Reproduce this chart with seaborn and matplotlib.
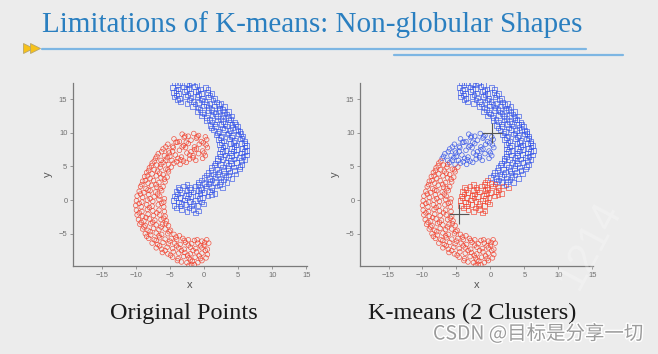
import numpy as np
import pandas as pd
import matplotlib
matplotlib.use("Agg")
import matplotlib.pyplot as plt
from matplotlib.lines import Line2D
import matplotlib.patheffects as pe
import seaborn as sns

# points (original classes)
red_points = [
    (-3.2, 9.8), (-2.3, 9.5), (-1.5, 9.9), (-0.8, 9.6), (0.2, 9.4),
    (-4.4, 9.1), (-3.6, 8.7), (-2.9, 9.3), (-1.9, 8.9), (-1.1, 9.2), (-0.4, 8.7), (0.4, 9.0),
    (-5.3, 8.3), (-4.6, 8.0), (-3.9, 8.6), (-3.0, 8.1), (-2.3, 8.4), (-1.4, 7.9), (-0.7, 8.3), (0.3, 8.2),
    (-6.0, 7.6), (-5.2, 7.3), (-4.5, 7.8), (-3.6, 7.4), (-2.7, 7.8), (-1.9, 7.2), (-1.1, 7.6), (-0.2, 7.3), (0.5, 7.8),
    (-6.7, 6.9), (-5.8, 6.6), (-5.1, 7.0), (-4.2, 6.7), (-3.3, 6.4), (-2.5, 7.0), (-1.6, 6.6), (-0.8, 6.9), (0.2, 6.6),
    (-7.1, 6.2), (-6.3, 5.9), (-5.4, 6.3), (-4.7, 5.9), (-3.8, 6.2), (-3.0, 5.8), (-2.1, 6.1), (-1.2, 5.9), (-0.2, 6.2),
    (-7.6, 5.5), (-6.9, 5.2), (-6.0, 5.6), (-5.2, 5.3), (-4.4, 5.5), (-3.5, 5.3), (-2.6, 5.6),
    (-8.0, 4.8), (-7.3, 4.5), (-6.4, 4.9), (-5.6, 4.6), (-4.8, 4.9),
    (-8.4, 4.1), (-7.6, 3.9), (-6.8, 4.3), (-6.0, 3.8), (-5.2, 4.2),
    (-8.7, 3.5), (-7.9, 3.2), (-7.0, 3.6), (-6.3, 3.3), (-5.4, 3.4),
    (-9.0, 2.8), (-8.2, 2.5), (-7.4, 2.9), (-6.6, 2.6), (-5.7, 2.7),
    (-9.3, 2.0), (-8.5, 1.7), (-7.7, 2.2), (-6.9, 1.9), (-6.0, 2.0),
    (-9.5, 1.3), (-8.8, 1.1), (-7.9, 1.4), (-7.1, 1.2), (-6.2, 1.4),
    (-9.8, 0.6), (-9.0, 0.4), (-8.1, 0.8), (-7.3, 0.5), (-6.5, 0.6), (-5.8, 0.2),
    (-9.9, -0.1), (-9.1, -0.3), (-8.3, 0.0), (-7.5, -0.2), (-6.6, 0.1), (-5.9, -0.3),
    (-10.0, -0.8), (-9.2, -1.0), (-8.4, -0.7), (-7.6, -0.9), (-6.7, -0.7), (-5.9, -1.0),
    (-9.9, -1.5), (-9.1, -1.7), (-8.3, -1.4), (-7.5, -1.6), (-6.6, -1.5), (-5.8, -1.7),
    (-9.8, -2.2), (-9.0, -2.4), (-8.2, -2.1), (-7.4, -2.3), (-6.5, -2.2), (-5.7, -2.4),
    (-9.6, -2.9), (-8.8, -3.1), (-8.0, -2.8), (-7.2, -3.0), (-6.3, -2.9), (-5.5, -3.1),
    (-9.4, -3.6), (-8.6, -3.8), (-7.8, -3.5), (-7.0, -3.7), (-6.1, -3.6), (-5.2, -3.8),
    (-9.0, -4.3), (-8.2, -4.5), (-7.4, -4.2), (-6.6, -4.4), (-5.7, -4.3), (-4.9, -4.5),
    (-8.6, -5.0), (-7.8, -5.2), (-7.0, -4.9), (-6.2, -5.1), (-5.3, -5.0), (-4.4, -5.1), (-3.6, -5.3),
    (-8.1, -5.7), (-7.3, -5.9), (-6.5, -5.6), (-5.7, -5.8), (-4.8, -5.7), (-4.0, -5.9), (-3.1, -5.7),
    (-2.3, -5.9), (-1.4, -6.0), (-0.3, -6.1), (0.4, -5.9),
    (-7.6, -6.4), (-6.8, -6.6), (-6.0, -6.3), (-5.2, -6.5), (-4.3, -6.4), (-3.5, -6.6), (-2.7, -6.3),
    (-1.8, -6.5), (-0.9, -6.4), (0.0, -6.7), (0.7, -6.4),
    (-7.0, -7.1), (-6.2, -7.3), (-5.4, -7.0), (-4.6, -7.2), (-3.7, -7.1), (-2.9, -7.3), (-2.0, -7.0),
    (-1.2, -7.2), (-0.3, -7.1), (0.5, -7.3),
    (-6.1, -7.8), (-5.3, -8.0), (-4.5, -7.7), (-3.7, -7.9), (-2.8, -7.8), (-2.0, -8.0), (-1.1, -7.7),
    (-0.3, -7.9), (0.5, -8.1),
    (-4.6, -8.5), (-3.8, -8.7), (-3.0, -8.4), (-2.2, -8.6), (-1.3, -8.5), (-0.5, -8.7), (0.3, -8.6),
    (-3.3, -9.2), (-2.5, -9.3), (-1.7, -9.1), (-0.9, -9.3),
    (-2.2, -9.7), (-1.4, -9.6),
    # in-between points
    (-2.8, 9.5), (-1.0, 9.4), (-4.1, 8.6), (-2.6, 8.6), (-0.1, 8.5), (-5.6, 7.9), (-3.2, 7.9),
    (-1.4, 7.5), (-6.2, 7.2), (-4.6, 7.2), (-2.1, 6.7), (0.0, 7.0), (-6.9, 6.5), (-5.0, 6.5),
    (-3.4, 6.0), (-1.6, 6.3), (-7.3, 5.8), (-5.6, 5.9), (-4.0, 5.7), (-7.7, 5.1), (-6.3, 5.3),
    (-5.3, 4.5), (-8.1, 4.4), (-6.5, 4.0), (-8.3, 3.6), (-5.8, 3.1), (-8.6, 2.9), (-7.0, 2.3),
    (-9.1, 2.3), (-6.4, 1.7), (-8.2, 1.5), (-9.3, 0.9), (-6.8, 0.9), (-7.9, 0.2), (-9.5, -0.5),
    (-6.2, -0.5), (-8.0, -1.1), (-9.5, -1.9), (-6.9, -1.9), (-8.5, -2.6), (-5.9, -2.7), (-9.2, -3.3),
    (-7.5, -3.3), (-5.6, -3.5), (-8.8, -4.0), (-6.3, -4.0), (-7.9, -4.7), (-5.1, -4.7), (-8.4, -5.4),
    (-6.6, -5.3), (-4.1, -5.5), (-7.0, -6.0), (-5.0, -6.1), (-2.9, -6.0), (-1.0, -5.9), (0.1, -6.3),
    (-6.5, -6.8), (-4.0, -6.8), (-2.3, -6.7), (-0.5, -6.8), (-5.7, -7.5), (-3.3, -7.5), (-1.6, -7.5),
    (0.2, -7.5), (-4.9, -8.2), (-2.4, -8.2), (-0.7, -8.3), (-3.9, -9.0), (-2.0, -8.9), (-0.3, -9.0),
    (-1.8, -9.6),
]

blue_points = [
    (-4.3, 17.4), (-3.5, 17.5), (-2.6, 17.3), (-1.8, 17.5), (-1.0, 17.2),
    (-4.6, 16.7), (-3.8, 16.5), (-3.0, 16.8), (-2.2, 16.6), (-1.4, 16.9), (-0.5, 16.5), (0.2, 16.7),
    (-4.5, 16.0), (-3.7, 15.8), (-2.9, 16.1), (-2.0, 15.9), (-1.2, 16.1), (-0.4, 15.8), (0.5, 16.0), (1.2, 15.8),
    (-4.4, 15.3), (-3.6, 15.1), (-2.7, 15.4), (-1.9, 15.2), (-1.0, 15.4), (-0.2, 15.1), (0.7, 15.3), (1.6, 15.1),
    (-3.4, 14.6), (-2.5, 14.4), (-1.6, 14.7), (-0.8, 14.5), (0.1, 14.7), (0.9, 14.4), (1.8, 14.6), (2.5, 14.4),
    (-1.7, 13.9), (-0.9, 13.7), (-0.1, 14.0), (0.7, 13.8), (1.5, 14.0), (2.3, 13.7), (3.0, 13.9),
    (-1.0, 13.2), (-0.2, 13.0), (0.6, 13.3), (1.4, 13.1), (2.2, 13.3), (3.0, 13.0), (3.6, 13.2),
    (-0.4, 12.5), (0.4, 12.3), (1.2, 12.6), (2.0, 12.4), (2.8, 12.6), (3.6, 12.3), (4.1, 12.5),
    (0.4, 11.8), (1.2, 11.6), (2.0, 11.9), (2.8, 11.7), (3.6, 11.9), (4.5, 11.6),
    (0.9, 11.1), (1.7, 10.9), (2.5, 11.2), (3.3, 11.0), (4.1, 11.2), (4.9, 10.9),
    (1.4, 10.4), (2.2, 10.2), (3.0, 10.5), (3.8, 10.3), (4.6, 10.5), (5.3, 10.2),
    (1.8, 9.7), (2.6, 9.5), (3.4, 9.8), (4.2, 9.6), (5.0, 9.8), (5.7, 9.5),
    (2.1, 9.0), (2.9, 8.8), (3.7, 9.1), (4.5, 8.9), (5.3, 9.1), (6.0, 8.8),
    (2.3, 8.3), (3.1, 8.1), (3.9, 8.4), (4.7, 8.2), (5.5, 8.4), (6.2, 8.1),
    (2.4, 7.6), (3.2, 7.4), (4.0, 7.7), (4.8, 7.5), (5.6, 7.7), (6.3, 7.4),
    (2.3, 6.9), (3.1, 6.7), (3.9, 7.0), (4.7, 6.8), (5.5, 7.0), (6.2, 6.7),
    (2.0, 6.2), (2.8, 6.0), (3.6, 6.3), (4.4, 6.1), (5.2, 6.3), (6.0, 6.0),
    (1.6, 5.5), (2.4, 5.3), (3.2, 5.6), (4.0, 5.4), (4.8, 5.6), (5.6, 5.3),
    (1.1, 4.8), (1.9, 4.6), (2.7, 4.9), (3.5, 4.7), (4.3, 4.9), (5.2, 4.6),
    (0.6, 4.1), (1.4, 3.9), (2.2, 4.2), (3.0, 4.0), (3.8, 4.2), (4.7, 3.9),
    (0.0, 3.4), (0.8, 3.2), (1.6, 3.5), (2.4, 3.3), (3.2, 3.5), (4.1, 3.2),
    (-0.8, 2.7), (0.1, 2.5), (0.9, 2.8), (1.7, 2.6), (2.5, 2.8), (3.4, 2.6),
    (-3.8, 1.9), (-3.0, 2.1), (-2.1, 1.9), (-1.3, 2.1), (-0.5, 1.9), (0.3, 2.1), (1.1, 1.9), (1.9, 2.1), (2.7, 1.8),
    (-4.1, 1.3), (-3.3, 1.1), (-2.5, 1.4), (-1.6, 1.2), (-0.8, 1.4), (0.0, 1.1), (0.8, 1.3), (1.6, 1.0),
    (-4.3, 0.6), (-3.5, 0.4), (-2.7, 0.7), (-1.9, 0.5), (-1.0, 0.7), (-0.2, 0.4), (0.6, 0.6),
    (-4.5, -0.1), (-3.7, -0.3), (-2.9, 0.0), (-2.1, -0.2), (-1.2, -0.1), (-0.4, -0.3),
    (-4.4, -0.8), (-3.5, -0.9), (-2.7, -0.7), (-1.8, -0.9), (-0.9, -0.8),
    (-3.3, -1.5), (-2.5, -1.7), (-1.6, -1.4), (-0.8, -1.6),
    # in-between points
    (-3.9, 17.2), (-2.2, 17.1), (-4.1, 16.3), (-2.6, 16.4), (-0.9, 16.3), (0.6, 16.4), (-4.0, 15.6),
    (-2.4, 15.6), (-0.8, 15.7), (0.9, 15.6), (-3.9, 14.9), (-2.1, 14.9), (-0.4, 14.9), (1.3, 14.9),
    (2.1, 14.2), (-1.3, 14.3), (0.4, 14.2), (2.7, 13.5), (-0.6, 13.5), (1.1, 13.5), (1.7, 12.9),
    (3.3, 12.8), (0.0, 12.8), (0.8, 12.0), (2.4, 12.1), (3.9, 12.0), (1.6, 11.3), (3.1, 11.4),
    (4.6, 11.3), (1.1, 10.7), (2.7, 10.7), (4.2, 10.8), (5.0, 10.3), (2.0, 10.0), (3.6, 10.0),
    (5.4, 9.9), (2.4, 9.3), (4.0, 9.4), (5.6, 9.2), (2.6, 8.6), (4.3, 8.6), (5.9, 8.5), (2.8, 7.9),
    (4.4, 8.0), (6.0, 7.9), (2.7, 7.2), (4.3, 7.3), (5.9, 7.2), (2.4, 6.5), (4.0, 6.6), (5.7, 6.5),
    (2.0, 5.9), (3.9, 5.9), (5.5, 5.9), (1.5, 5.2), (3.6, 5.1), (5.3, 5.0), (1.0, 4.4), (2.9, 4.4),
    (4.5, 4.4), (0.4, 3.7), (2.0, 3.8), (3.6, 3.7), (-0.4, 3.0), (1.2, 3.0), (2.9, 3.1), (-2.5, 2.3),
    (-0.9, 2.3), (0.7, 2.4), (2.3, 2.3), (-3.6, 1.6), (-2.0, 1.6), (-0.4, 1.6), (1.2, 1.5), (-3.9, 0.9),
    (-2.3, 0.9), (-0.6, 1.0), (1.1, 0.8), (-4.1, 0.3), (-2.4, 0.3), (-0.7, 0.2), (-3.3, -0.5),
    (-1.6, -0.5), (-0.1, -0.6), (-4.0, -1.2), (-2.2, -1.2), (-1.2, -1.9),
]

# k-means centroids (the two crosses)
centroid_x = [0.2, -4.6]
centroid_y = [9.9, -2.0]

x_ticks = [-15, -10, -5, 0, 5, 10, 15]
y_ticks = [-5, 0, 5, 10, 15]

title = "Limitations of K-means: Non-globular Shapes"
captions = ["Original Points", "K-means (2 Clusters)"]
watermark = "CSDN @目标是分享一切"

bg = "#ececec"
red = "#f23c28"
blue = "#3050e8"

red_df = pd.DataFrame(red_points, columns=["x", "y"])
red_df["shape"] = "circle"
red_df["orig"] = "red"
blue_df = pd.DataFrame(blue_points, columns=["x", "y"])
blue_df["shape"] = "square"
blue_df["orig"] = "blue"
df = pd.concat([red_df, blue_df], ignore_index=True)

# assign each point to the nearest centroid
d0 = (df["x"] - centroid_x[0]) ** 2 + (df["y"] - centroid_y[0]) ** 2
d1 = (df["x"] - centroid_x[1]) ** 2 + (df["y"] - centroid_y[1]) ** 2
df["cluster"] = np.where(d0 < d1, "blue", "red")

sns.set_theme(style="white")
plt.rcParams["font.family"] = ["Liberation Sans", "DejaVu Sans"]

fig = plt.figure(figsize=(6.58, 3.54), dpi=100)
fig.patch.set_facecolor(bg)

W, H = 658, 354
ax_left = fig.add_axes([73 / W, 1 - 266 / H, 234 / W, 183.3 / H])
ax_right = fig.add_axes([360 / W, 1 - 266 / H, 233 / W, 183.3 / H])


def draw(ax, hue_col):
    sns.scatterplot(data=df, x="x", y="y", hue=hue_col, style="shape",
                    markers={"circle": "o", "square": "s"},
                    palette={"red": red, "blue": blue},
                    s=11, linewidth=0.5, legend=False, ax=ax)
    pts = ax.collections[0]
    fc = pts.get_facecolors().copy()
    fc[:, 3] = 0.85
    pts.set_edgecolors(fc)
    pts.set_facecolors("none")

    ax.set_facecolor(bg)
    ax.set_xlim(-19.2, 15.1)
    ax.set_ylim(-9.8, 17.45)
    ax.set_xticks(x_ticks)
    ax.set_yticks(y_ticks)
    for side in ["top", "right"]:
        ax.spines[side].set_visible(False)
    for side in ["left", "bottom"]:
        ax.spines[side].set_color("#7a7a7a")
        ax.spines[side].set_linewidth(0.9)
    ax.tick_params(direction="out", length=2, width=0.6, color="#888888",
                   labelsize=5.5, labelcolor="#707070", pad=2,
                   bottom=True, left=True)
    ax.set_xlabel("x", fontsize=8, color="#555555", labelpad=1)
    ax.set_ylabel("y", fontsize=8, color="#555555", labelpad=4)


draw(ax_left, "orig")
draw(ax_right, "cluster")
ax_right.scatter(centroid_x, centroid_y, marker="+", s=220, color="#555555",
                 linewidths=0.8, zorder=5)

# slide title and decoration
fig.text(42 / W, 1 - 25 / H, title, family="Liberation Serif", fontsize=21,
         color="#2a7fc0", va="center", ha="left")
fig.add_artist(Line2D([42 / W, 586 / W], [1 - 49 / H] * 2, color="#7db6e3",
                      lw=1.6, transform=fig.transFigure))
fig.add_artist(Line2D([394 / W, 623 / W], [1 - 54.5 / H] * 2, color="#7db6e3",
                      lw=1.6, transform=fig.transFigure))
fig.add_artist(Line2D([28 / W, 35 / W], [1 - 48 / H] * 2, ls="none", marker=">",
                      markersize=6.5, color="#f7c21a", mec="#b7a46a", mew=0.6,
                      transform=fig.transFigure))

# captions
fig.text(184 / W, 1 - 313 / H, captions[0], family="Liberation Serif",
         fontsize=17.5, color="#1a1a1a", ha="center", va="center")
fig.text(472 / W, 1 - 313 / H, captions[1], family="Liberation Serif",
         fontsize=17.5, color="#1a1a1a", ha="center", va="center")

# watermarks
fig.text(590 / W, 1 - 245 / H, "1214", fontsize=30, color="white", alpha=0.25,
         rotation=62, ha="center", va="center")
fig.text(433 / W, 1 - 334 / H, watermark, family=["Noto Sans CJK SC", "DejaVu Sans"],
         fontsize=14, color="#9c9c9c", ha="left", va="center",
         path_effects=[pe.withStroke(linewidth=2, foreground="white")])

fig.savefig("out.png", dpi=100, facecolor=bg)
